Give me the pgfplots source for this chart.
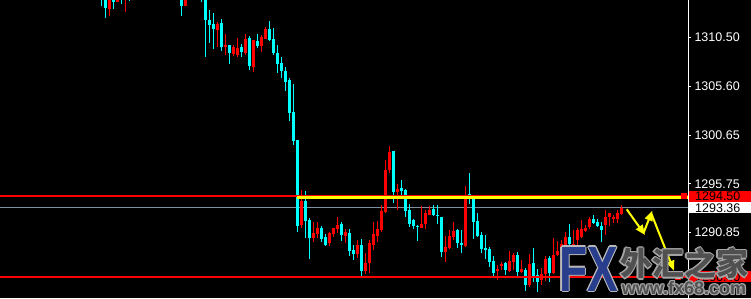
\documentclass[border=0pt]{standalone}
\usepackage{fontspec}
\setmainfont{Liberation Sans}
\newfontfamily\cjk{Noto Sans CJK SC}
\usepackage{graphicx}
\usepackage{pgfplots}
\pgfplotsset{compat=1.18}
\usepackage{pgfplotstable}
\usetikzlibrary{arrows.meta,calc}
\definecolor{cc}{RGB}{0,255,255}
\definecolor{rr}{RGB}{255,0,0}
\definecolor{gl}{RGB}{128,144,160}
\definecolor{yl}{RGB}{255,255,0}
\definecolor{fxblue}{RGB}{40,62,140}
\definecolor{wmgrey}{RGB}{80,80,80}

\pgfplotstableread{
i lo hi bb bt
25 1313.65 1316.00 1314.60 1315.50
26 1312.44 1316.00 1313.45 1315.50
28 1313.34 1316.00 1314.05 1315.50
30 1313.85 1316.00 1314.60 1315.50
32 1314.15 1316.00 1314.60 1315.50
45 1312.64 1316.00 1313.65 1315.50
50 1314.05 1316.00 1314.60 1315.50
51 1308.52 1316.00 1312.24 1315.50
52 1309.93 1313.24 1311.74 1312.24
53 1309.32 1312.94 1311.33 1311.84
55 1309.12 1312.34 1309.52 1311.94
57 1307.81 1309.72 1308.92 1309.72
60 1308.52 1309.83 1309.02 1309.52
62 1307.21 1310.63 1307.61 1310.43
64 1309.42 1310.83 1309.62 1310.13
67 1310.13 1312.14 1310.23 1311.33
68 1308.72 1311.43 1308.92 1310.33
69 1306.91 1309.72 1307.81 1308.92
70 1306.41 1308.52 1307.11 1307.91
71 1305.10 1307.51 1306.00 1307.11
72 1302.08 1306.41 1302.89 1306.21
73 1299.67 1305.80 1300.07 1302.99
74 1290.92 1300.17 1291.52 1300.17
76 1290.32 1295.04 1292.03 1294.04
77 1288.20 1292.33 1290.32 1292.13
80 1289.91 1291.52 1290.22 1291.32
81 1289.51 1290.72 1289.61 1290.42
85 1290.02 1291.93 1290.62 1291.72
87 1288.51 1291.22 1289.01 1290.82
88 1288.10 1289.61 1288.71 1289.11
90 1286.39 1290.22 1287.00 1289.61
98 1293.84 1299.07 1294.94 1299.07
100 1294.54 1296.15 1295.04 1295.34
101 1292.43 1295.24 1293.03 1295.14
102 1291.42 1293.74 1291.72 1293.13
103 1291.22 1292.23 1291.52 1292.13
104 1290.02 1291.62 1291.47 1291.57
108 1292.53 1293.64 1292.63 1293.23
109 1291.72 1293.64 1292.53 1292.63
110 1288.41 1292.43 1288.91 1292.43
114 1289.31 1291.22 1289.81 1291.12
115 1288.81 1291.12 1289.61 1289.81
117 1293.74 1296.85 1294.54 1294.74
118 1290.22 1294.54 1291.93 1294.54
119 1290.42 1292.83 1290.52 1292.03
120 1288.81 1290.92 1289.21 1290.62
121 1288.20 1290.62 1289.11 1289.31
122 1287.40 1289.41 1287.90 1289.21
123 1286.29 1288.51 1286.80 1288.00
126 1286.60 1287.90 1287.10 1287.80
129 1286.50 1288.91 1286.90 1288.61
131 1284.99 1287.30 1285.59 1287.10
133 1285.89 1289.31 1286.39 1287.80
134 1284.89 1287.20 1285.89 1286.60
137 1285.89 1288.51 1286.80 1288.31
142 1289.51 1291.72 1289.71 1290.42
148 1291.72 1292.63 1291.83 1292.23
149 1291.42 1292.23 1291.52 1291.93
150 1289.91 1291.93 1291.12 1291.52
}\cyantab

\pgfplotstableread{
i lo hi bb bt
27 1312.67 1316.00 1313.34 1315.50
29 1314.05 1316.00 1314.05 1315.50
31 1313.04 1316.00 1314.60 1315.50
46 1313.65 1316.00 1313.65 1315.50
54 1309.52 1312.04 1311.23 1311.84
56 1308.72 1310.83 1309.52 1309.72
58 1308.62 1309.72 1308.82 1309.52
59 1308.52 1310.43 1308.72 1309.42
61 1308.72 1310.83 1308.92 1310.33
63 1307.01 1310.23 1307.51 1310.23
65 1309.02 1310.73 1309.62 1310.53
66 1310.33 1311.53 1310.33 1311.33
75 1291.32 1295.14 1291.62 1294.04
78 1289.91 1291.93 1290.32 1290.82
79 1290.32 1291.93 1290.72 1291.32
82 1289.51 1290.92 1289.81 1290.82
83 1290.42 1291.32 1290.72 1291.32
84 1290.82 1292.43 1291.22 1291.62
86 1289.81 1291.22 1290.52 1290.92
89 1288.31 1290.12 1288.71 1289.61
91 1286.70 1288.81 1287.00 1287.80
92 1286.80 1290.12 1287.80 1289.81
93 1289.11 1291.93 1289.61 1290.72
94 1289.91 1292.03 1290.52 1291.22
95 1290.92 1293.64 1291.12 1293.03
96 1292.83 1298.16 1292.93 1297.15
97 1296.85 1299.57 1297.15 1298.96
99 1293.13 1295.75 1294.94 1295.24
105 1291.32 1293.53 1291.32 1291.72
106 1291.22 1293.13 1291.72 1292.83
107 1292.63 1293.53 1292.63 1293.13
111 1287.90 1290.52 1288.91 1289.41
112 1289.21 1291.12 1289.31 1290.52
113 1290.12 1291.93 1290.42 1291.02
116 1289.41 1295.55 1289.51 1294.64
124 1286.09 1287.60 1287.00 1287.20
125 1287.10 1287.90 1287.50 1287.70
127 1286.90 1289.01 1287.00 1288.00
128 1287.10 1288.81 1287.90 1288.61
130 1286.80 1288.10 1286.90 1287.20
132 1285.39 1288.71 1285.59 1287.70
135 1285.59 1287.30 1286.09 1286.70
136 1285.99 1288.51 1286.70 1288.20
138 1286.70 1290.32 1286.80 1288.61
139 1288.51 1290.02 1288.61 1289.01
140 1288.91 1290.12 1289.01 1289.71
141 1289.41 1290.92 1289.51 1290.42
143 1288.91 1291.12 1289.11 1289.71
144 1289.61 1291.32 1290.12 1291.12
145 1290.32 1292.13 1290.42 1291.22
146 1290.92 1291.62 1291.02 1291.32
147 1291.22 1292.43 1291.42 1292.23
151 1290.62 1293.13 1291.62 1292.43
152 1291.52 1292.83 1292.43 1292.83
153 1291.83 1292.63 1292.23 1292.43
154 1291.83 1293.13 1292.23 1292.83
155 1292.63 1293.64 1292.73 1293.33
}\redtab

\pgfplotsset{
  wick/.style={draw=none, mark=none, forget plot,
    error bars/.cd, y dir=plus, y explicit, error mark=none,
    error bar style={draw=#1, line width=1pt}},
  body/.style={draw=none, mark=none, forget plot,
    error bars/.cd, y dir=plus, y explicit, error mark=none,
    error bar style={draw=#1, line width=3pt}},
}

\begin{document}
\begin{tikzpicture}
\useasboundingbox (0pt,0pt) rectangle (751pt,298pt);
\clip (0pt,0pt) rectangle (751pt,298pt);
\fill[black] (0pt,0pt) rectangle (751pt,298pt);
\begin{axis}[
  at={(0pt,0pt)}, anchor=south west,
  scale only axis, width=688pt, height=298pt,
  xmin=-0.375, xmax=171.625, ymin=1284.28, ymax=1314.25,
  axis x line=none,
  axis y line=right,
  y axis line style={-, white, line width=1pt},
  ytick={1290.85,1295.75,1300.65,1305.60,1310.50},
  yticklabels={1290.85,1295.75,1300.65,1305.60,1310.50},
  tick align=outside, major tick length=3pt,
  ytick style={white, line width=1pt},
  yticklabel style={text=white, font=\fontsize{12.5}{14}\selectfont, anchor=west},
  axis background/.style={fill=black},
]
% grey current-price line
\addplot[gl, line width=1pt, forget plot] coordinates {(-0.375,1293.36) (171.625,1293.36)};
% candles
\addplot[wick=cc] table[x=i, y=lo, y error plus expr=\thisrow{hi}-\thisrow{lo}] {\cyantab};
\addplot[body=cc] table[x=i, y=bb, y error plus expr=\thisrow{bt}-\thisrow{bb}] {\cyantab};
\addplot[wick=rr] table[x=i, y=lo, y error plus expr=\thisrow{hi}-\thisrow{lo}] {\redtab};
\addplot[body=rr] table[x=i, y=bb, y error plus expr=\thisrow{bt}-\thisrow{bb}] {\redtab};
% horizontal levels
\addplot[rr, line width=2pt, forget plot] coordinates {(-0.375,1294.50) (171.625,1294.50)};
\addplot[rr, line width=2pt, forget plot] coordinates {(-0.375,1286.40) (171.625,1286.40)};
\addplot[yl, line width=3pt, forget plot] coordinates {(73.9,1294.40) (171.625,1294.40)};
\addplot[only marks, mark=square*, mark size=2.5pt, mark options={fill=rr, draw=rr}, forget plot] coordinates {(170.6,1294.55)};
\addplot[only marks, mark=square*, mark size=2.5pt, mark options={fill=white, draw=rr, line width=1.2pt}, forget plot] coordinates {(169.1,1286.40)};
\coordinate (pa) at (axis cs:171.625,1294.50);
\coordinate (pb) at (axis cs:171.625,1293.36);
\coordinate (pc) at (axis cs:171.625,1286.40);
\coordinate (pd) at (axis cs:171.625,1314.80);
\end{axis}
% price labels on the scale
\foreach \c/\t/\f in {pd/1314.50/rr, pa/1294.50/rr, pb/1293.36/white, pc/1286.40/rr} {
  \fill[\f] ($(\c)+(1pt,-5.5pt)$) rectangle ($(\c)+(63pt,5.5pt)$);
  \node[anchor=west, text=black, font=\fontsize{12.5}{14}\selectfont, inner sep=0pt] at ($(\c)+(7pt,0pt)$) {\t};
}
% yellow arrows
\draw[yl, line width=2pt, -{Triangle[length=10pt,width=8pt]}] (626.7pt,88.7pt) -- (645pt,63pt);
\draw[yl, line width=2pt, -{Triangle[length=10pt,width=8pt]}] (643.5pt,65pt) -- (652.3pt,87.3pt);
\draw[yl, line width=2pt, -{Triangle[length=10pt,width=8pt]}] (651.5pt,84pt) -- (674pt,27.3pt);
% watermark
\foreach \dx/\dy in {-1.2/0,1.2/0,0/-1.2,0/1.2,-0.9/-0.9,0.9/0.9,-0.9/0.9,0.9/-0.9} {
  \node[text=gray!55, font=\fontsize{64}{64}\selectfont\bfseries, inner sep=0pt] at (588.5pt+\dx pt,29pt+\dy pt) {\scalebox{0.72}[1]{FX}};
  \node[text=gray!70, font=\fontsize{32}{32}\selectfont, inner sep=0pt] at (684pt+\dx pt,34.5pt+\dy pt) {\cjk\bfseries 外汇之家};
  \node[text=gray!70, font=\fontsize{18}{18}\selectfont\bfseries, inner sep=0pt] at (684pt+\dx pt,10pt+\dy pt) {www.fx68.com};
}
\node[text=fxblue, font=\fontsize{64}{64}\selectfont\bfseries, inner sep=0pt] at (588.5pt,29pt) {\scalebox{0.72}[1]{FX}};
\node[text=wmgrey, font=\fontsize{32}{32}\selectfont, inner sep=0pt] at (684pt,34.5pt) {\cjk\bfseries 外汇之家};
\node[text=wmgrey, font=\fontsize{18}{18}\selectfont\bfseries, inner sep=0pt] at (684pt,10pt) {www.fx68.com};
\end{tikzpicture}
\end{document}
